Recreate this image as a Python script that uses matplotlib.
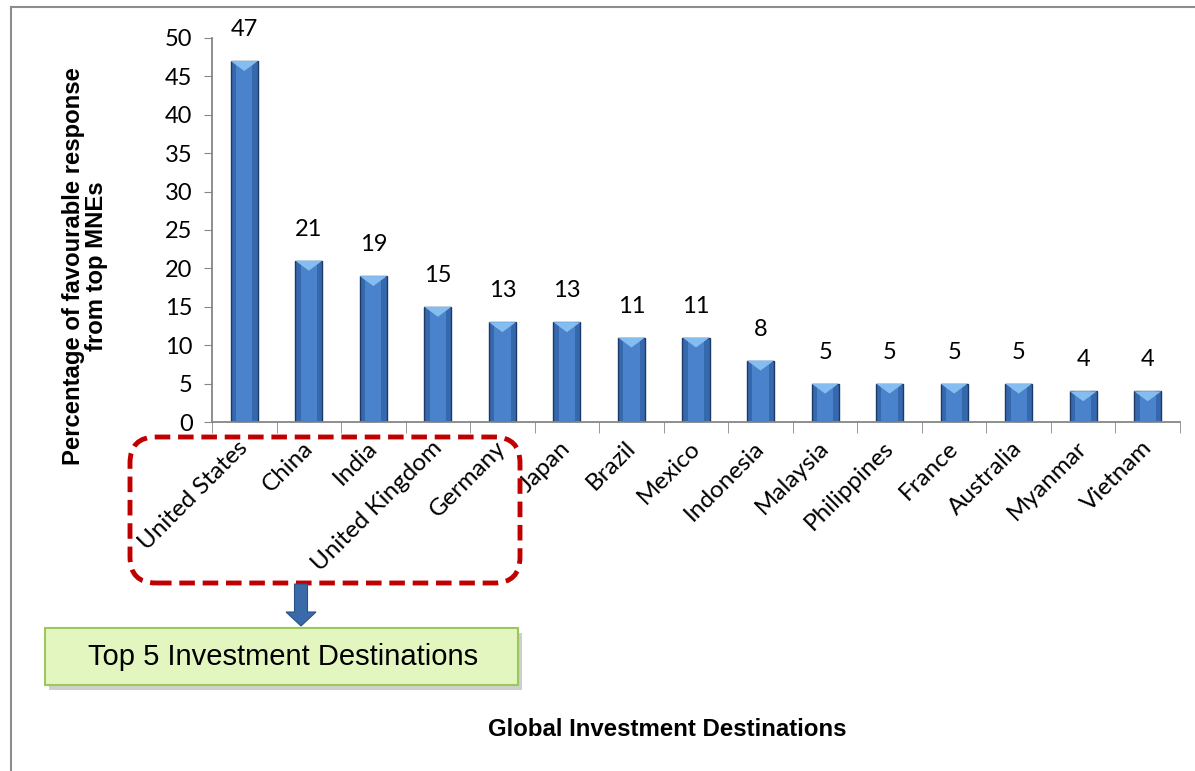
import numpy as np
import matplotlib
matplotlib.use('Agg')
import matplotlib.pyplot as plt
from matplotlib.patches import FancyBboxPatch, Polygon, FancyArrow
from matplotlib.lines import Line2D
from matplotlib.transforms import IdentityTransform, ScaledTranslation

# Data
countries = ['United States', 'China', 'India', 'United Kingdom', 'Germany',
             'Japan', 'Brazil', 'Mexico', 'Indonesia', 'Malaysia',
             'Philippines', 'France', 'Australia', 'Myanmar', 'Vietnam']
values = [47, 21, 19, 15, 13, 13, 11, 11, 8, 5, 5, 5, 5, 4, 4]
yticks = [0, 5, 10, 15, 20, 25, 30, 35, 40, 45, 50]

W, H = 1195, 771
fig = plt.figure(figsize=(W / 100, H / 100), dpi=100)
fig.patch.set_facecolor('white')
px = IdentityTransform()  # pixel coords (origin bottom-left)

# axes placed in pixel terms of the reference
left, right, top, bottom = 212, 1180, 38, 422
ax = fig.add_axes([left / W, 1 - bottom / H, (right - left) / W, (bottom - top) / H])

x = np.arange(len(countries))
bw = 0.42
ax.bar(x, values, width=bw, color='#3568ad', edgecolor='#1d3a64', linewidth=1.0, zorder=2)
# lighter inner strip for the bevel look
ax.bar(x, values, width=bw * 0.6, color='#4a82cb', linewidth=0, zorder=3)
# top bevel triangle
for xi, v in zip(x, values):
    bev = 1.3
    tri = Polygon([[xi - bw / 2, v], [xi + bw / 2, v], [xi, v - bev]],
                  closed=True, facecolor='#86bdf0', edgecolor='none', zorder=4)
    ax.add_patch(tri)

for xi, v in zip(x, values):
    ax.annotate(str(v), (xi, v), xytext=(0, 15), textcoords='offset points',
                ha='center', va='bottom', fontsize=17, family='Lato')

ax.set_xlim(-0.5, len(countries) - 0.5)
ax.set_ylim(0, 50)
ax.set_yticks(yticks)
ax.set_yticklabels([str(t) for t in yticks], fontsize=17, family='Lato')
ax.set_xticks(x)
ax.set_xticklabels(countries, rotation=45, ha='right', va='top', rotation_mode='anchor',
                   fontsize=17.5, family='Lato')
ax.tick_params(axis='x', length=0, pad=11)
# nudge category labels slightly left, like the reference
shift = ScaledTranslation(-5 / 72, 0, fig.dpi_scale_trans)
for lab in ax.get_xticklabels():
    lab.set_transform(lab.get_transform() + shift)
ax.set_xticks(np.arange(-0.5, len(countries)), minor=True)
ax.tick_params(axis='x', which='minor', length=8, color='#868686', direction='out')
ax.tick_params(axis='y', length=6, color='#868686', direction='out', pad=8)

for s in ['top', 'right']:
    ax.spines[s].set_visible(False)
for s in ['left', 'bottom']:
    ax.spines[s].set_color('#868686')
    ax.spines[s].set_linewidth(1.3)

fig.text(85 / W, 1 - 266 / H, 'Percentage of favourable response\nfrom top MNEs',
         rotation=90, ha='center', va='center', fontsize=17.2, fontweight='bold',
         family='Liberation Sans', linespacing=1.05)
fig.text(667 / W, 1 - 730 / H, 'Global Investment Destinations', ha='center', va='center',
         fontsize=17.3, fontweight='bold', family='Liberation Sans')

# outer frame lines (top and left)
fig.add_artist(Line2D([11 / W, 1], [1 - 7 / H, 1 - 7 / H], color='#8c8c8c', lw=1.5))
fig.add_artist(Line2D([11 / W, 11 / W], [0, 1 - 7 / H], color='#8c8c8c', lw=1.5))

# red dashed rounded box around top 5
rb = FancyBboxPatch((130, H - 583), 390, 146,
                    boxstyle='round,pad=0,rounding_size=26',
                    transform=px, facecolor='none', edgecolor='#c00000',
                    lw=3.5, linestyle=(0, (3.2, 1.6)), zorder=5)
fig.add_artist(rb)

# arrow down
arr = FancyArrow(301, H - 584, 0, -42, width=13, head_width=30,
                 head_length=14, length_includes_head=True, transform=px,
                 facecolor='#3a6aa8', edgecolor='#2c5285', lw=0.8, zorder=6)
fig.add_artist(arr)

# green box with shadow
shadow = FancyBboxPatch((49, H - 690), 473, 57, boxstyle='square,pad=0',
                        transform=px, facecolor='#b0b0b0', edgecolor='none',
                        alpha=0.6, zorder=6)
fig.add_artist(shadow)
gb = FancyBboxPatch((45, H - 685), 473, 57, boxstyle='square,pad=0',
                    transform=px, facecolor='#e4f6c0', edgecolor='#9bc75b',
                    lw=1.5, zorder=7)
fig.add_artist(gb)
fig.text(283 / W, 1 - 657 / H, 'Top 5 Investment Destinations', ha='center', va='center',
         fontsize=21, family='Liberation Sans', zorder=8)

fig.savefig('out.png', dpi=100)
